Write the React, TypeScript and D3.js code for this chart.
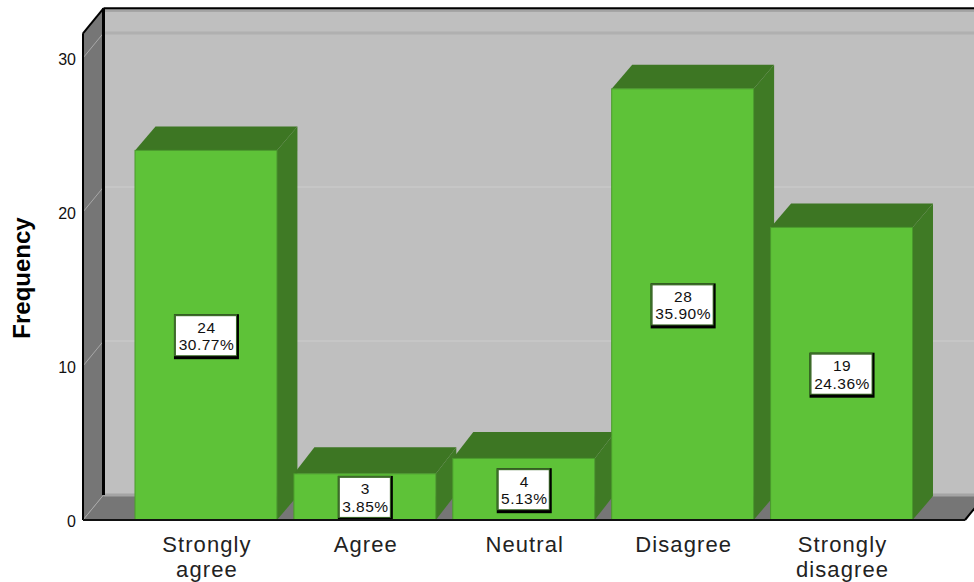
import React from "react";
import * as d3 from "d3";

const categories = ["Strongly agree", "Agree", "Neutral", "Disagree", "Strongly disagree"];
const categoryLines = [["Strongly", "agree"], ["Agree"], ["Neutral"], ["Disagree"], ["Strongly", "disagree"]];
const frequencies = [24, 3, 4, 28, 19];
const percents = ["30.77%", "3.85%", "5.13%", "35.90%", "24.36%"];
const yTicks = [0, 10, 20, 30];
const yMax = 31.6;

const WIDTH = 974;
const HEIGHT = 582;
const FONT = "'Liberation Sans', Arial, sans-serif";

const COLORS = {
  wall: "#bfbfbf",
  wallBand: "#a2a2a2",
  grid: "#c6c6c6",
  topGrid: "#b0b0b0",
  side: "#767676",
  sideGrid: "#a8a8a8",
  floorEdge: "#a4a4a4",
  front: "#5ec238",
  frontEdge: "#4a9a2c",
  top: "#3d7623",
  right: "#3f7a25",
};

const y = d3.scaleLinear().domain([0, 30]).range([520, 58]);
const x = d3.scaleBand<string>().domain(categories).range([135, 912.5]).paddingInner(17 / 159);

// Depth of the 3D projection; short bars sit lower and show a deeper top face
const wallDx = 20.5;
const wallDy = -25;
const barDx = 20.5;
const barDepth = (v: number) => (v < 10 ? -26.5 : -24);

const left = 83;
const right = 965;
const floorY = y(0);
const topY = y(yMax);
const poly = (pts: [number, number][]) => pts.map((p) => p.join(",")).join(" ");

export default function App() {
  const bw = x.bandwidth();
  return (
    <svg
      width={WIDTH}
      height={HEIGHT}
      viewBox={`0 0 ${WIDTH} ${HEIGHT}`}
      style={{ position: "absolute", left: 0, top: 0, background: "#fff", fontFamily: FONT }}
    >
      {/* back wall */}
      <rect x={left + wallDx} y={topY + wallDy} width={WIDTH - left} height={floorY - topY} fill={COLORS.wall} />
      <rect x={left + wallDx} y={topY + wallDy} width={WIDTH - left} height={3.5} fill={COLORS.wallBand} />
      {yTicks.slice(1).map((t) => (
        <line
          key={t}
          x1={left + wallDx}
          x2={WIDTH}
          y1={y(t) + wallDy}
          y2={y(t) + wallDy}
          stroke={t === 30 ? COLORS.topGrid : COLORS.grid}
          strokeWidth={t === 30 ? 3 : 2}
        />
      ))}

      {/* floor */}
      <polygon
        points={poly([
          [left, floorY],
          [left + wallDx, floorY + wallDy],
          [right + wallDx, floorY + wallDy],
          [right, floorY],
        ])}
        fill={COLORS.side}
      />
      <line x1={left + wallDx} x2={WIDTH} y1={floorY + wallDy} y2={floorY + wallDy} stroke={COLORS.floorEdge} strokeWidth={3} />

      {/* side wall */}
      <polygon
        points={poly([
          [left, floorY],
          [left, topY],
          [left + wallDx, topY + wallDy],
          [left + wallDx, floorY + wallDy],
        ])}
        fill={COLORS.side}
      />
      {yTicks.map((t) => (
        <line
          key={t}
          x1={left}
          y1={y(t)}
          x2={left + wallDx}
          y2={y(t) + wallDy}
          stroke={COLORS.sideGrid}
          strokeWidth={1}
        />
      ))}

      {/* frame */}
      <line x1={left + wallDx} x2={WIDTH} y1={topY + wallDy} y2={topY + wallDy} stroke="#000" strokeWidth={2} />
      <line x1={left + wallDx} x2={left + wallDx} y1={topY + wallDy} y2={floorY + wallDy} stroke="#000" strokeWidth={3} />
      <line x1={left} x2={left} y1={topY} y2={floorY} stroke="#000" strokeWidth={2} />
      <line x1={left} y1={topY} x2={left + wallDx} y2={topY + wallDy} stroke="#000" strokeWidth={2} />
      <line x1={right} y1={floorY} x2={right + wallDx} y2={floorY + wallDy} stroke="#000" strokeWidth={2} />

      {/* bars, drawn left to right so later ones overlap earlier side faces */}
      {categories.map((c, i) => {
        const x0 = x(c)!;
        const yTop = y(frequencies[i]);
        const dy = barDepth(frequencies[i]);
        return (
          <g key={c}>
            <polygon
              points={poly([
                [x0 + bw, floorY],
                [x0 + bw, yTop],
                [x0 + bw + barDx, yTop + dy],
                [x0 + bw + barDx, floorY + dy],
              ])}
              fill={COLORS.right}
            />
            <polygon
              points={poly([
                [x0, yTop],
                [x0 + barDx, yTop + dy],
                [x0 + bw + barDx, yTop + dy],
                [x0 + bw, yTop],
              ])}
              fill={COLORS.top}
            />
            <rect x={x0} y={yTop} width={bw} height={floorY - yTop} fill={COLORS.front} stroke={COLORS.frontEdge} strokeWidth={1} />
          </g>
        );
      })}

      {/* value labels */}
      {categories.map((c, i) => {
        const cx = x(c)! + bw / 2 + 0.5;
        const cy = (y(frequencies[i]) + floorY) / 2 + 1;
        const w = percents[i].length * 10 + 5;
        return (
          <g key={c}>
            <rect x={cx - w / 2} y={cy - 22} width={w} height={45} fill="#000" />
            <rect x={cx - w / 2} y={cy - 22} width={w - 2} height={42} fill="#3d6b2a" />
            <rect x={cx - w / 2 + 2} y={cy - 20} width={w - 5} height={39} fill="#fff" />
            <text x={cx} y={cy - 3.5} textAnchor="middle" fontSize={15.5} letterSpacing={0.5} fill="#111">
              {frequencies[i]}
            </text>
            <text x={cx} y={cy + 14} textAnchor="middle" fontSize={15.5} letterSpacing={0.5} fill="#111">
              {percents[i]}
            </text>
          </g>
        );
      })}

      <line x1={left} x2={right} y1={floorY} y2={floorY} stroke="#111" strokeWidth={2} />

      {/* y axis */}
      {yTicks.map((t) => (
        <text key={t} x={76} y={y(t) + 7} textAnchor="end" fontSize={16} fill="#111">
          {t}
        </text>
      ))}
      <text
        transform="translate(30,278) rotate(-90)"
        textAnchor="middle"
        fontSize={24}
        fontWeight="bold"
        fill="#000"
      >
        Frequency
      </text>

      {/* x axis */}
      {categories.map((c, i) => (
        <text key={c} textAnchor="middle" fontSize={22} fill="#222" letterSpacing={1.1}>
          {categoryLines[i].map((line, j) => (
            <tspan key={line} x={x(c)! + bw / 2 + 1} y={552 + j * 25}>
              {line}
            </tspan>
          ))}
        </text>
      ))}
    </svg>
  );
}
